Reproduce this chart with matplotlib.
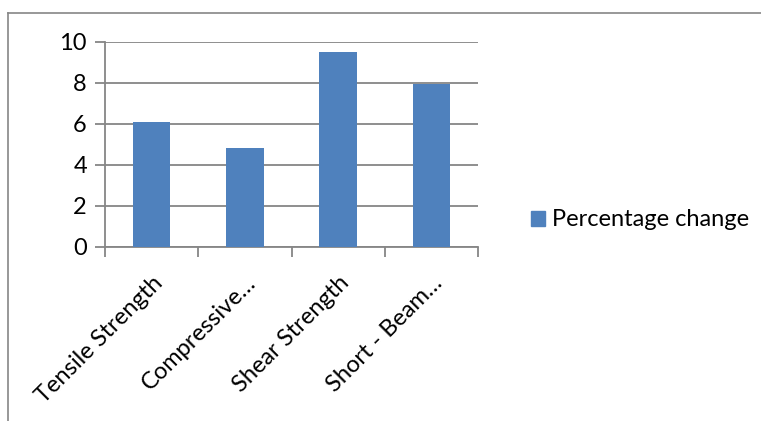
import matplotlib.pyplot as plt
from matplotlib.lines import Line2D
from matplotlib.patches import Patch

categories = ['Tensile Strength', 'Compressive…', 'Shear Strength', 'Short - Beam…']
values = [6.1, 4.84, 9.5, 7.95]
series_name = 'Percentage change'
y_ticks = [0, 2, 4, 6, 8, 10]

bar_color = '#4F81BD'
line_color = '#868686'

plt.rcParams['font.family'] = ['Lato', 'DejaVu Sans']

W, H = 761, 421
fig = plt.figure(figsize=(W / 100, H / 100), dpi=100)

# plot area in pixel coordinates
left, right, top, bottom = 105, 478, 42, 247
ax = fig.add_axes([left / W, 1 - bottom / H, (right - left) / W, (bottom - top) / H])

x = list(range(len(categories)))
ax.bar(x, values, width=0.4, color=bar_color, zorder=3)

ax.set_xlim(-0.5, len(categories) - 0.5)
ax.set_ylim(0, 10)
ax.set_yticks(y_ticks)
ax.set_yticklabels([str(t) for t in y_ticks], fontsize=17)
ax.yaxis.grid(True, color=line_color, linewidth=1.3)
ax.set_axisbelow(True)

# category ticks sit on the boundaries between bars
ax.set_xticks([i - 0.5 for i in range(len(categories) + 1)])
ax.set_xticklabels([])
ax.set_xticks(x, minor=True)
ax.set_xticklabels(categories, minor=True, rotation=45, ha='right',
                   rotation_mode='anchor', fontsize=17)
ax.tick_params(axis='x', which='minor', length=0, pad=18)
ax.tick_params(axis='x', which='major', length=7, color=line_color, width=1.3)
ax.tick_params(axis='y', length=7, color=line_color, width=1.3, pad=6)

for side in ['top', 'right']:
    ax.spines[side].set_visible(False)
for side in ['left', 'bottom']:
    ax.spines[side].set_color(line_color)
    ax.spines[side].set_linewidth(1.3)

fig.legend(handles=[Patch(color=bar_color, label=series_name)],
           loc='center left', bbox_to_anchor=(510 / W, 1 - 220 / H),
           frameon=False, fontsize=17, handlelength=0.6, handleheight=0.6,
           handletextpad=0.3)

# outer chart border
fig.add_artist(Line2D([8 / W, 8 / W], [0, 1 - 13 / H], color=line_color, linewidth=1.2))
fig.add_artist(Line2D([8 / W, 1], [1 - 13 / H, 1 - 13 / H], color=line_color, linewidth=1.2))

fig.savefig('out.png', dpi=100, facecolor='white')
